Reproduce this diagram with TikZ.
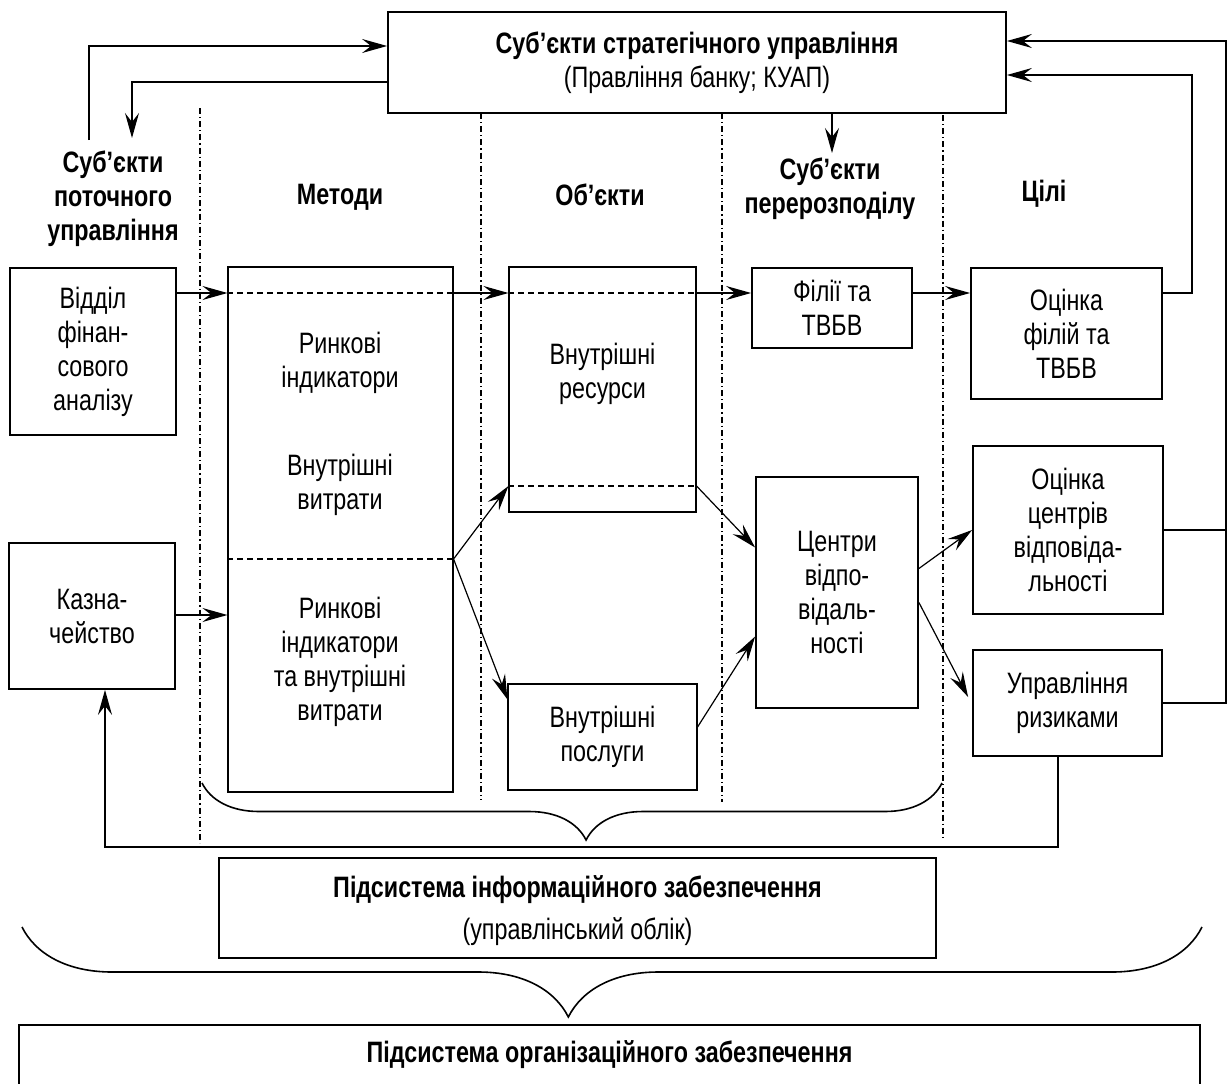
\documentclass[tikz,border=0pt]{standalone}
\usepackage{fontspec}
\setmainfont{Liberation Sans}[FakeStretch=0.79]
\usetikzlibrary{arrows.meta,positioning,decorations.pathreplacing}

\tikzset{
  every node/.style={font=\fontsize{29.5}{34}\selectfont, align=center},
  box/.style={draw, line width=1.8pt, inner sep=0pt},
  thinbox/.style={draw, line width=1.1pt, inner sep=0pt},
  head/.style={font=\fontsize{29.5}{34}\selectfont\bfseries},
  arr/.style={line width=1.2pt, -{Stealth[length=25pt,width=14pt,inset=9pt]}},
  link/.style={line width=1.2pt},
  colsep/.style={line width=1.8pt, dash pattern=on 6pt off 3pt on 1.2pt off 3pt},
  cut/.style={line width=1.4pt, dash pattern=on 6pt off 4pt},
  brc/.style n args={2}{decorate, line width=1.6pt, decoration={brace, mirror, amplitude=#1, aspect=#2}}
}

\begin{document}
\begin{tikzpicture}[x=1pt, y=-1pt]
\useasboundingbox (0,0) rectangle (1229,1084);
\clip (0,0) rectangle (1229,1084);

\node[box, minimum width=618pt, minimum height=101pt] (strat) at (697,62.5)
  {\textbf{Суб’єкти стратегічного управління}\\(Правління банку; КУАП)};

\node[head] (curr) at (113,199) {Суб’єкти\\поточного\\управління};
\node[head] (methh) at (340,197) {Методи};
\node[head] (objh) at (600,195) {Об’єкти};
\node[head] (redh) at (830,189) {Суб’єкти\\перерозподілу};
\node[head] (goalh) at (1044,194) {Цілі};

\foreach \x/\a/\b in {200/108/843, 481/113/800, 722/113/802, 943/115/838}
  \draw[colsep] (\x,\a) -- (\x,\b);

\node[box, minimum width=166pt, minimum height=167pt] (fin) at (93,351.5) {Відділ\\фінан-\\сового\\аналізу};
\node[box, minimum width=166pt, minimum height=146pt] (treas) at (92,616) {Казна-\\чейство};
\node[thinbox, minimum width=225pt, minimum height=525pt] (meth) at (340.5,529.5) {};
\node (mt1) at (340,362.5) {Ринкові\\індикатори};
\node (mt2) at (340,485) {Внутрішні\\витрати};
\node (mt3) at (340,661.5) {Ринкові\\індикатори\\та внутрішні\\витрати};
\node[thinbox, minimum width=187pt, minimum height=245pt] (res) at (602.5,389.5) {};
\node (rt) at (602.5,373.5) {Внутрішні\\ресурси};
\node[thinbox, minimum width=189pt, minimum height=106pt] (serv) at (602.5,737) {Внутрішні\\послуги};
\node[box, minimum width=160pt, minimum height=80pt] (branch) at (832,308) {Філії та\\ТВБВ};
\node[box, minimum width=162pt, minimum height=231pt] (centres) at (837,592.5) {Центри\\відпо-\\відаль-\\ності};
\node[box, minimum width=191pt, minimum height=131pt] (evalb) at (1066.5,333.5) {Оцінка\\філій та\\ТВБВ};
\node[box, minimum width=190pt, minimum height=168pt] (evalc) at (1068,530) {Оцінка\\центрів\\відповіда-\\льності};
\node[box, minimum width=189pt, minimum height=106pt] (risk) at (1067.5,703) {Управління\\ризиками};
\node[box, minimum width=717pt, minimum height=100pt] (info) at (577.5,908) {};
\node (infot) at (577.5,911)
  {\textbf{Підсистема інформаційного забезпечення}\\[8pt](управлінський облік)};
\node[box, minimum width=1181pt, minimum height=120pt, anchor=north] (org) at (609.5,1024) {};
\node[head, below=13pt of org.north] (orgt) {Підсистема організаційного забезпечення};

\coordinate (r1) at (0,293);
\draw[arr] (fin.east |- r1) -- (meth.west |- r1);
\draw[cut] (meth.west |- r1) -- (meth.east |- r1);
\draw[arr] (meth.east |- r1) -- (res.west |- r1);
\draw[cut] (res.west |- r1) -- (res.east |- r1);
\draw[arr] (res.east |- r1) -- (branch.west |- r1);
\draw[arr] (branch.east |- r1) -- (evalb.west |- r1);
\coordinate (r2) at (0,615);
\draw[arr] (treas.east |- r2) -- (meth.west |- r2);

\coordinate (r3) at (0,559);
\coordinate (r4) at (0,486);
\draw[cut] (meth.west |- r3) -- (meth.east |- r3);
\draw[cut] (res.west |- r4) -- (res.east |- r4);
\draw[arr] (meth.east |- r3) -- (res.west |- r4);
\draw[arr] (meth.east |- r3) -- ([yshift=-16pt]serv.north west);
\draw[arr] (res.east |- r4) -- ([yshift=45pt]centres.west);
\draw[arr] ([yshift=10pt]serv.east) -- ([yshift=-44pt]centres.west);
\draw[arr] ([yshift=24pt]centres.east) -- (evalc.west);
\draw[arr] ([yshift=-10pt]centres.east) -- ([xshift=-4pt,yshift=6pt]risk.west);

\coordinate (a1) at (89,140);
\coordinate (a2) at (0,46);
\draw[arr] (a1) |- (strat.west |- a2);
\coordinate (b1) at (132,138);
\coordinate (b2) at (0,82);
\draw[arr] (strat.west |- b2) -| (b1);
\coordinate (c1) at (832,153);
\draw[arr] (strat.south -| c1) -- (c1);

\coordinate (rail) at (1226,41);
\draw[arr] (risk.east) -| (rail) -- (strat.east |- rail);
\draw[link] (evalc.east) -- (evalc.east -| rail);
\coordinate (rail2) at (1192,75);
\draw[arr] (evalb.east |- r1) -| (rail2) -- (strat.east |- rail2);

\coordinate (fbr) at (1058,847);
\coordinate (fbl) at (105,847);
\draw[arr] (risk.south -| fbr) -- (fbr) -- (fbl) -- (treas.south -| fbl);

\draw[brc={57pt}{0.519}] (202,783) -- (942,783);
\draw[brc={90pt}{0.463}] (22,927) -- (1202,927);
\end{tikzpicture}
\end{document}
